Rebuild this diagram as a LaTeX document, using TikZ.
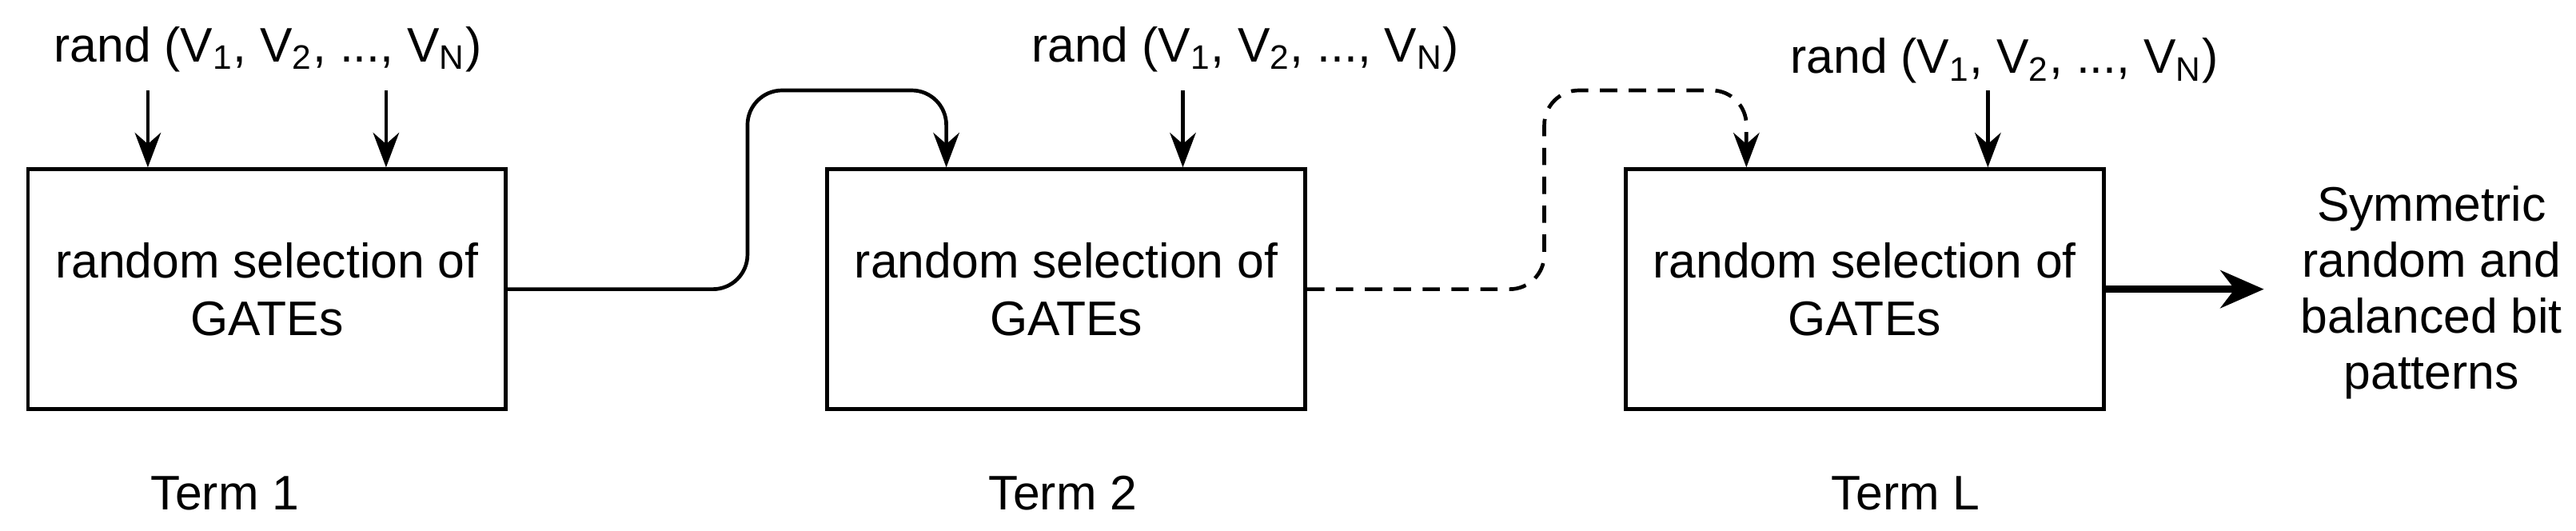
\documentclass[tikz,border=0pt]{standalone}
\usepackage{fontspec}
\setmainfont{Liberation Sans}
\usetikzlibrary{arrows.meta,positioning}
\tikzset{
  gate/.style = {draw, line width=1.3pt, minimum width=5.82cm, minimum height=2.92cm,
                 align=center, font=\fontsize{16.8}{20}\selectfont},
  lbl/.style = {font=\fontsize{16.8}{20}\selectfont, align=center},
  arr/.style = {-{Stealth[length=12pt,width=9pt]}, line width=1.3pt},
}
\newcommand{\randV}{rand (V\textsubscript{1}, V\textsubscript{2}, ..., V\textsubscript{N})}
\begin{document}
\begin{tikzpicture}[x=0.02cm, y=-0.02cm]
\useasboundingbox (0,0) rectangle (1568,323);

\node[gate] (g1) at (162.5,176) {random selection of\\GATEs};
\node[gate] (g2) at (649,176) {random selection of\\GATEs};
\node[gate] (g3) at (1135,176) {random selection of\\GATEs};

\node[lbl] (r1) at (163,30) {\randV};
\node[lbl] (r2) at (758,30) {\randV};
\node[lbl] (r3) at (1220,37) {\randV};

\node[lbl] (t1) at (137,300) {Term 1};
\node[lbl] (t2) at (647,300) {Term 2};
\node[lbl] (t3) at (1160,300) {Term L};

\node[lbl, font=\fontsize{16.8}{19.4}\selectfont] (out) at (1480,178) {Symmetric\\random and\\balanced bit\\patterns};

% inputs
\coordinate (a1) at (90,55);
\coordinate (b1) at (235,55);
\coordinate (b2) at (720,55);
\coordinate (b3) at (1210,55);
\draw[arr] (a1) -- (a1 |- g1.north);
\draw[arr] (b1) -- (b1 |- g1.north);
\draw[arr] (b2) -- (b2 |- g2.north);
\draw[arr] (b3) -- (b3 |- g3.north);

% links between terms
\coordinate (c1) at (576,55);
\coordinate (c2) at (1063,55);
\draw[arr, rounded corners=12] (g1.east) -| (455,55) -- (c1) -- (c1 |- g2.north);
\draw[arr, dashed, dash pattern=on 6pt off 4pt, rounded corners=12] (g2.east) -| (940,55) -- (c2) -- (c2 |- g3.north);

\coordinate (o1) at (1378,176);
\draw[-{Stealth[length=15pt,width=13pt]}, line width=2.6pt] (g3.east) -- (o1);
\end{tikzpicture}
\end{document}
